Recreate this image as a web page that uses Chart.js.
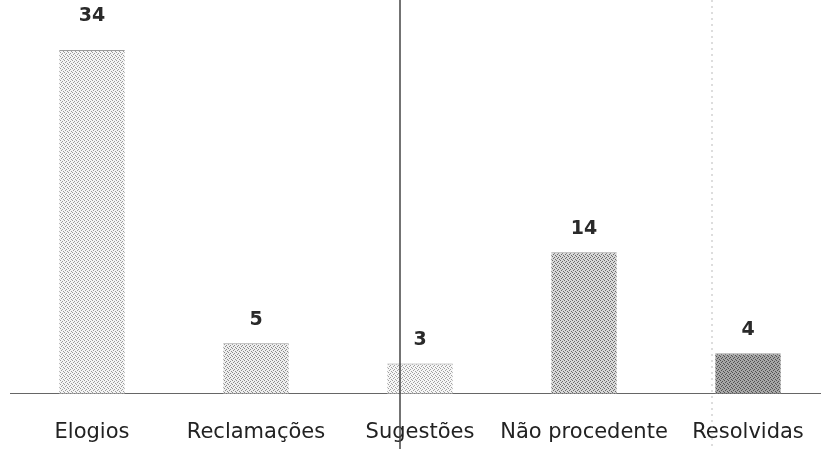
<!DOCTYPE html>
<html>
<head>
<meta charset="utf-8">
<script src="https://cdn.jsdelivr.net/npm/chart.js@4"></script>
<style>
html,body{margin:0;padding:0;background:#fff;overflow:hidden;}
#wrap{width:830px;height:449px;position:relative;}
</style>
</head>
<body>
<div id="wrap"><canvas id="chart"></canvas></div>
<script>
const categories=["Elogios","Reclamações","Sugestões","Não procedente","Resolvidas"];
const values=[34,5,3,14,4];
const shades=[["#f4f4f4","#9a9a9a"],["#eeeeee","#8a8a8a"],["#f6f6f6","#a0a0a0"],["#d8d8d8","#6a6a6a"],["#a8a8a8","#505050"]];

function makePattern(bg,dot){
const c=document.createElement("canvas");
c.width=4;c.height=4;
const g=c.getContext("2d");
g.fillStyle=bg;g.fillRect(0,0,4,4);
g.fillStyle=dot;
g.fillRect(0,0,1,1);g.fillRect(2,1,1,1);g.fillRect(1,2,1,1);g.fillRect(3,3,1,1);
return g.createPattern(c,"repeat");
}

// value labels above bars + the dark scan line
const extras={
id:"extras",
afterDatasetsDraw(chart){
const ctx=chart.ctx;
const meta=chart.getDatasetMeta(0);
const top=Math.max(...values);
ctx.save();
ctx.fillStyle="#2a2a2a";
ctx.font="bold 19px 'DejaVu Sans'";
ctx.textAlign="center";
ctx.textBaseline="bottom";
meta.data.forEach((bar,i)=>{
ctx.fillText(values[i],bar.x,values[i]==top?26:bar.y-14);
});
ctx.strokeStyle="#444";
ctx.lineWidth=1.5;
ctx.beginPath();
ctx.moveTo(400,0);ctx.lineTo(400,449);
ctx.stroke();
ctx.strokeStyle="#bbb";
ctx.lineWidth=1;
ctx.setLineDash([2,4]);
ctx.beginPath();
ctx.moveTo(712,0);ctx.lineTo(712,449);
ctx.stroke();
ctx.restore();
}
};

chart=new Chart(document.getElementById("chart"),{
type:"bar",
data:{
labels:categories,
datasets:[{
data:values,
backgroundColor:shades.map(s=>makePattern(s[0],s[1])),
borderColor:"#9a9a9a",
borderWidth:{top:1,left:0,right:0,bottom:0},
categoryPercentage:1,
barPercentage:0.4
}]
},
options:{
responsive:true,
maintainAspectRatio:false,
animation:false,
layout:{padding:{top:50,left:10,right:0,bottom:-14}},
plugins:{legend:{display:false},tooltip:{enabled:false}},
scales:{
y:{display:false,min:0,max:34},
x:{
grid:{display:false},
border:{display:true,color:"#666",width:1},
ticks:{color:"#222",font:{family:"DejaVu Sans",size:21},padding:18,maxRotation:0,minRotation:0,autoSkip:false}
}
}
},
plugins:[extras]
});
</script>
</body>
</html>
